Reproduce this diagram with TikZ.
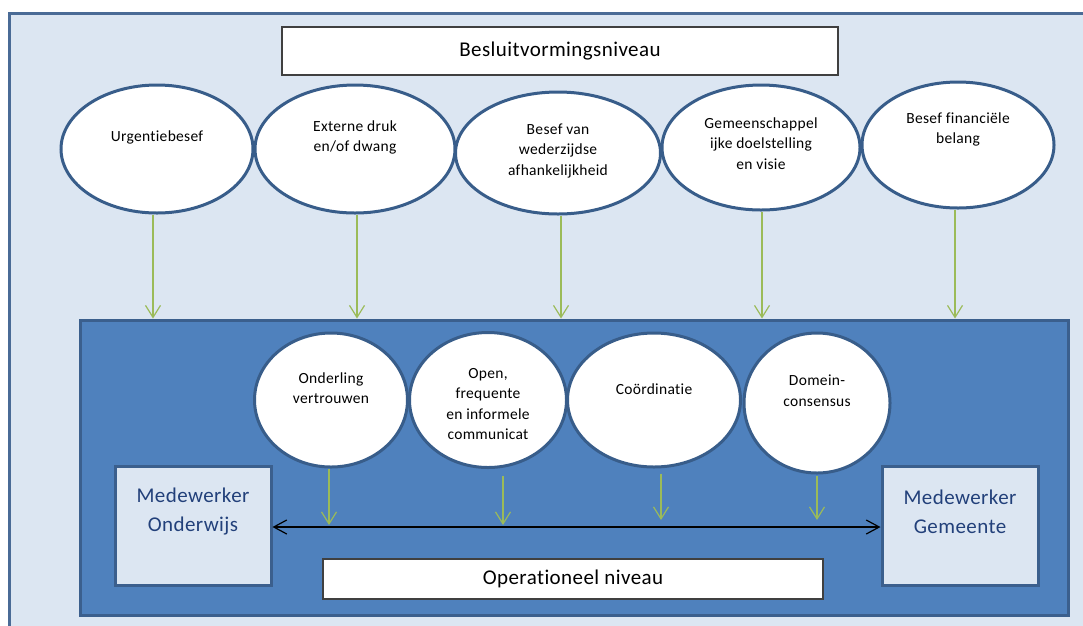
\documentclass[tikz,border=0pt]{standalone}
\usepackage{fontspec}
\setmainfont{Carlito}[Ligatures=NoCommon,LetterSpace=2]
\usetikzlibrary{arrows.meta,shapes.geometric}
\definecolor{bgblue}{HTML}{DCE6F2}
\definecolor{frameblue}{HTML}{4A6B96}
\definecolor{innerblue}{HTML}{4F81BD}
\definecolor{innerborder}{HTML}{3B5F8D}
\definecolor{ellborder}{HTML}{385D8A}
\definecolor{garrowc}{HTML}{9BBB59}
\definecolor{navytext}{HTML}{22407A}
\definecolor{boxgray}{HTML}{404040}
\tikzset{
  ell/.style={ellipse, draw=ellborder, line width=3pt, fill=white, inner sep=0pt},
  etext/.style={align=center, font=\fontsize{15.5}{20.5}\selectfont, text=black, inner sep=0pt},
  labelbox/.style={rectangle, draw=boxgray, line width=1.3pt, fill=white, inner sep=0pt,
                   font=\fontsize{21}{26}\selectfont},
  mwbox/.style={rectangle, draw=innerborder, line width=3pt, fill=bgblue, inner sep=0pt},
  mwtext/.style={align=center, font=\fontsize{21}{29}\selectfont, text=navytext, inner sep=0pt},
  garrow/.style={draw=garrowc, line width=1.2pt, -{Straight Barb[length=12pt,width=15pt,line width=1.2pt]}},
  barrow/.style={draw=black, line width=1.2pt, {Straight Barb[length=13pt,width=14pt,line width=1.2pt]}-{Straight Barb[length=13pt,width=14pt,line width=1.2pt]}}
}
\begin{document}
\begin{tikzpicture}[x=1pt,y=-1pt]
\useasboundingbox (0,0) rectangle (1083,625);
\clip (0,0) rectangle (1083,625);
\fill[white] (0,0) rectangle (1083,625);
% outer frame
\node[rectangle, draw=frameblue, line width=3pt, fill=bgblue, minimum width=1120pt, minimum height=660pt, inner sep=0pt] (outer) at (569,343) {};
% top label
\node[labelbox, minimum width=556pt, minimum height=48pt] (top) at (560,51) {Besluitvormingsniveau};
% upper ellipses
\node[ell, minimum width=192pt, minimum height=128pt] (e1) at (157,149) {};
\node[ell, minimum width=200pt, minimum height=128pt] (e2) at (355,149) {};
\node[ell, minimum width=205pt, minimum height=122pt] (e3) at (558,153) {};
\node[ell, minimum width=198pt, minimum height=125pt] (e4) at (761,147.5) {};
\node[ell, minimum width=192pt, minimum height=126pt] (e5) at (958,145) {};
\node[etext] (t1) at (157,137) {Urgentiebesef};
\node[etext] (t2) at (355,137.5) {Externe druk\\en/of dwang};
\node[etext] (t3) at (558,151) {Besef van\\wederzijdse\\afhankelijkheid};
\node[etext] (t4) at (761,143.5) {Gemeenschappel\\ijke doelstelling\\en visie};
\node[etext] (t5) at (958,129.5) {Besef financiële\\belang};
% inner box
\node[rectangle, draw=innerborder, line width=3pt, fill=innerblue, minimum width=988pt, minimum height=295pt, inner sep=0pt] (inner) at (574,467.5) {};
% arrows from upper ellipses
\foreach \e/\dx in {e1/-4,e2/2,e3/3,e4/1,e5/-3}{
  \draw[garrow] ([xshift=\dx pt]\e.south) -- ([xshift=\dx pt]\e.south |- inner.north);
}
% lower ellipses
\node[ell, minimum width=153pt, minimum height=134pt] (l1) at (331,400) {};
\node[ell, minimum width=157pt, minimum height=135pt] (l2) at (488,400) {};
\node[ell, minimum width=173pt, minimum height=134pt] (l3) at (654,400) {};
\node[ell, minimum width=146pt, minimum height=140pt] (l4) at (817,403) {};
\node[etext] (s1) at (331,388) {Onderling\\vertrouwen};
\node[etext] (s2) at (488,404) {Open,\\frequente\\en informele\\communicat};
\node[etext] (s3) at (654,389) {Coördinatie};
\node[etext] (s4) at (817,390.5) {Domein-\\consensus};
% medewerker boxes
\node[mwbox, minimum width=156pt, minimum height=119pt] (mw1) at (193,525.5) {};
\node[mwbox, minimum width=156pt, minimum height=119pt] (mw2) at (960,525.5) {};
\node[mwtext] (m1) at (193,511.5) {Medewerker\\Onderwijs};
\node[mwtext] (m2) at (960,511.5) {Medewerker\\Gemeente};
% double arrow
\coordinate (al) at ([yshift=-1.5pt]mw1.east);
\coordinate (ar) at ([yshift=-1.5pt]mw2.west);
\draw[barrow] (al) -- (ar);
% arrows from lower ellipses
\draw[garrow] ([xshift=-2pt]l1.south) -- ([xshift=-2pt,yshift=2pt]l1.south |- al);
\draw[garrow] ([xshift=15pt,yshift=-7pt]l2.south) -- ([xshift=15pt,yshift=2pt]l2.south |- al);
\draw[garrow] ([xshift=7pt,yshift=-5pt]l3.south) -- ([xshift=7pt,yshift=7pt]l3.south |- al);
\draw[garrow] ([yshift=-1pt]l4.south) -- ([yshift=7pt]l4.south |- al);
% operationeel label
\node[labelbox, minimum width=500pt, minimum height=40pt] (op) at (573,579) {Operationeel niveau};
\end{tikzpicture}
\end{document}
